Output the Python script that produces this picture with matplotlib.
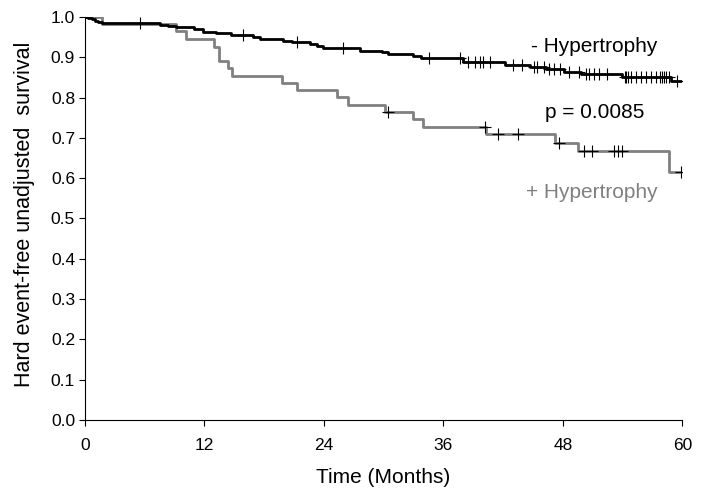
import numpy as np
import matplotlib
matplotlib.use("Agg")
import matplotlib.pyplot as plt

# step curves: (time in months, survival)
t_neg = [0, 0.3, 0.7, 1.0, 1.3, 1.7, 7.5, 8.4, 9.2, 11.0, 11.9, 13.2, 14.7, 16.9, 17.6,
         19.9, 20.8, 22.6, 23.3, 23.9, 27.6, 29.8, 30.4, 33.0, 33.8, 38.0, 42.2, 44.7,
         46.3, 48.1, 49.8, 53.9, 58.9, 60.8]
s_neg = [1.0, 0.997, 0.994, 0.991, 0.988, 0.984, 0.981, 0.978, 0.975, 0.969, 0.963, 0.959,
         0.955, 0.950, 0.945, 0.941, 0.938, 0.934, 0.929, 0.923, 0.916, 0.912, 0.907, 0.902,
         0.898, 0.889, 0.881, 0.876, 0.870, 0.864, 0.859, 0.852, 0.840, 0.840]
cens_neg = [5.5, 15.9, 21.3, 25.9, 34.6, 37.7, 38.5, 39.2, 39.7, 40.0, 40.7, 43.0, 43.9,
            45.1, 45.4, 46.1, 46.6, 47.1, 47.7, 48.6, 49.6, 50.3, 50.6, 51.1, 51.6, 52.4,
            54.2, 54.4, 54.6, 54.9, 55.4, 55.9, 56.4, 56.9, 57.4, 57.8, 58.0, 58.2, 58.4,
            58.7, 59.5, 60.3]

t_pos = [0, 1.7, 9.15, 10.15, 13.0, 13.5, 14.4, 14.8, 19.8, 21.3, 25.3, 26.4, 30.15, 33.0,
         34.0, 40.3, 47.2, 49.5, 58.7, 60.5]
s_pos = [1.0, 0.983, 0.964, 0.945, 0.926, 0.891, 0.873, 0.854, 0.837, 0.819, 0.801, 0.782,
         0.765, 0.746, 0.726, 0.710, 0.687, 0.666, 0.616, 0.616]
cens_pos = [30.4, 40.2, 41.5, 43.5, 47.6, 50.1, 50.9, 53.1, 53.5, 53.9, 59.9]

x_ticks = [0, 12, 24, 36, 48, 60]
y_ticks = [0.0, 0.1, 0.2, 0.3, 0.4, 0.5, 0.6, 0.7, 0.8, 0.9, 1.0]


def at(times, surv, t):
    i = np.searchsorted(times, t, side="right") - 1
    return np.array(surv)[i]


plt.rcParams["font.family"] = ["Liberation Sans", "DejaVu Sans"]
fig = plt.figure(figsize=(7.07, 4.98), dpi=100)
ax = fig.add_axes([0.120, 0.157, 0.845, 0.809])

ax.step(t_pos, s_pos, where="post", color="#808080", lw=2.0, zorder=2)
ax.step(t_neg, s_neg, where="post", color="black", lw=2.0, zorder=3)
ax.plot(cens_pos, at(t_pos, s_pos, cens_pos), "+", color="black", ms=8, mew=0.8, zorder=4)
ax.plot(cens_neg, at(t_neg, s_neg, cens_neg), "+", color="black", ms=8, mew=0.8, zorder=4)

ax.text(51.2, 0.926, "- Hypertrophy", fontsize=15, ha="center", va="center", color="black")
ax.text(51.2, 0.764, "p = 0.0085", fontsize=15, ha="center", va="center", color="black")
ax.text(50.9, 0.563, "+ Hypertrophy", fontsize=15, ha="center", va="center", color="#808080")

ax.set_xlim(0, 60)
ax.set_ylim(0, 1.0)
ax.set_xticks(x_ticks)
ax.set_yticks(y_ticks)
ax.set_yticklabels([f"{v:.1f}" for v in y_ticks])
ax.tick_params(labelsize=12.5, length=4, width=0.8, direction="out")
ax.tick_params(axis="x", pad=9)
ax.tick_params(axis="y", pad=3)
ax.spines["top"].set_visible(False)
ax.spines["right"].set_visible(False)
ax.set_xlabel("Time (Months)", fontsize=15)
ax.set_ylabel("Hard event-free unadjusted  survival", fontsize=15.5)
ax.xaxis.set_label_coords(0.5, -0.143)
ax.yaxis.set_label_coords(-0.1005, 0.51)
ax.xaxis.label.set_va("center")
ax.yaxis.label.set_va("center")

fig.savefig("out.png", dpi=100)
